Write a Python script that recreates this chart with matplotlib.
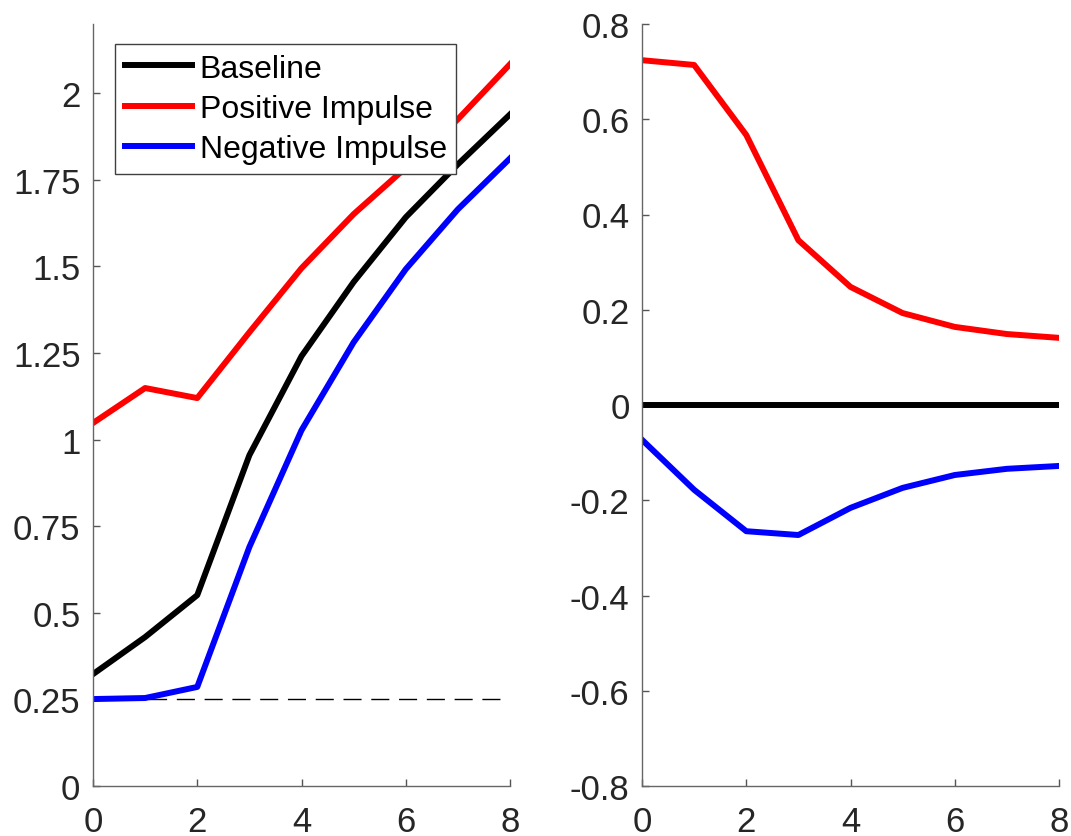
import matplotlib.pyplot as plt
from matplotlib.ticker import FixedLocator, FixedFormatter

# horizon
periods = [0, 1, 2, 3, 4, 5, 6, 7, 8]

# left panel: levels
baseline = [0.323, 0.430, 0.551, 0.955, 1.241, 1.455, 1.642, 1.795, 1.939]
positive = [1.048, 1.149, 1.120, 1.310, 1.495, 1.651, 1.785, 1.925, 2.084]
negative = [0.251, 0.254, 0.286, 0.690, 1.027, 1.281, 1.492, 1.665, 1.812]
floor_level = 0.25

# right panel: deviations from baseline
pos_dev = [0.724, 0.714, 0.567, 0.346, 0.248, 0.193, 0.164, 0.149, 0.141]
neg_dev = [-0.073, -0.178, -0.265, -0.273, -0.216, -0.174, -0.147, -0.134, -0.128]
zero_dev = [0, 0, 0, 0, 0, 0, 0, 0, 0]

left_yticks = [0, 0.25, 0.5, 0.75, 1, 1.25, 1.5, 1.75, 2]
left_ylabels = ['0', '0.25', '0.5', '0.75', '1', '1.25', '1.5', '1.75', '2']
right_yticks = [-0.8, -0.6, -0.4, -0.2, 0, 0.2, 0.4, 0.6, 0.8]
right_ylabels = ['-0.8', '-0.6', '-0.4', '-0.2', '0', '0.2', '0.4', '0.6', '0.8']
xticks = [0, 2, 4, 6, 8]

plt.rcParams['font.family'] = ['Liberation Sans', 'DejaVu Sans']
plt.rcParams['axes.unicode_minus'] = False

fig = plt.figure(figsize=(10.71, 8.37), dpi=100)
ax1 = fig.add_axes([93 / 1071, 1 - 787 / 837, 417 / 1071, 762 / 837])
ax2 = fig.add_axes([642 / 1071, 1 - 787 / 837, 417 / 1071, 762 / 837])

lw = 4.3
ax1.plot(periods, [floor_level] * len(periods), color='black', lw=1.0, dashes=(13, 7))
ax1.plot(periods, baseline, color='black', lw=lw, label='Baseline')
ax1.plot(periods, positive, color='red', lw=lw, label='Positive Impulse')
ax1.plot(periods, negative, color='blue', lw=lw, label='Negative Impulse')
ax1.set_ylim(0, 2.2)
ax1.yaxis.set_major_locator(FixedLocator(left_yticks))
ax1.yaxis.set_major_formatter(FixedFormatter(left_ylabels))

ax2.plot(periods, zero_dev, color='black', lw=lw)
ax2.plot(periods, pos_dev, color='red', lw=lw)
ax2.plot(periods, neg_dev, color='blue', lw=lw)
ax2.set_ylim(-0.8, 0.8)
ax2.yaxis.set_major_locator(FixedLocator(right_yticks))
ax2.yaxis.set_major_formatter(FixedFormatter(right_ylabels))

for ax in (ax1, ax2):
    ax.set_xlim(0, 8)
    ax.set_xticks(xticks)
    for side in ('top', 'right'):
        ax.spines[side].set_visible(False)
    for side in ('left', 'bottom'):
        ax.spines[side].set_color('#666666')
        ax.spines[side].set_linewidth(1.0)
    ax.tick_params(direction='in', length=5, width=1, color='#555555',
                   labelcolor='#262626', labelsize=25)
    ax.tick_params(axis='y', pad=9)
    ax.tick_params(axis='x', pad=14)

leg = ax1.legend(loc='upper left', bbox_to_anchor=(22 / 417, 742 / 762),
                 borderaxespad=0, fontsize=23, handlelength=2.1,
                 handletextpad=0.25, labelspacing=0.32, borderpad=0.3,
                 fancybox=False, framealpha=1)
leg.get_frame().set_edgecolor('#404040')
leg.get_frame().set_linewidth(1.0)

plt.savefig('out.png', dpi=100)
